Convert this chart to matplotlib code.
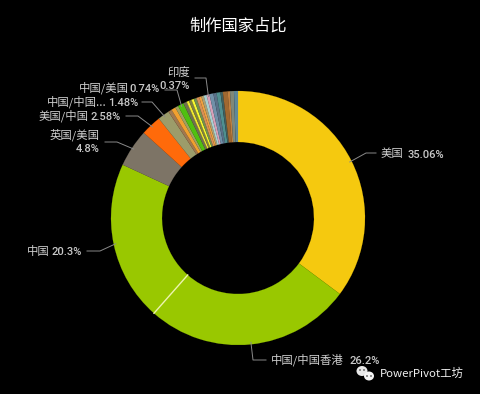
import numpy as np
import matplotlib
matplotlib.use('Agg')
import matplotlib.pyplot as plt
from matplotlib.patches import Ellipse, Circle

plt.rcParams['font.family'] = ['Noto Sans CJK SC', 'DejaVu Sans']

# slices, clockwise from the top
values = [35.06, 26.2, 20.3, 4.8, 2.58, 1.48, 0.45, 0.55, 0.4, 0.74, 0.45, 0.3, 0.35, 0.3, 0.35,
          0.35, 0.3, 0.3, 0.37, 0.37, 0.5, 0.4, 0.5, 0.3, 0.6, 0.3, 0.5, 0.5]
colors = ['#f5c90f', '#99c800', '#99c800', '#7d7466', '#ff6a0a', '#9c9c6a', '#a07850', '#f0a030',
          '#a0a060', '#50c010', '#707050', '#f0e830', '#808040', '#f8f830', '#709050',
          '#d89058', '#f0a040', '#b0a070', '#a8d0d0', '#d8a0b8', '#7090a8', '#5a7088', '#4f8f90',
          '#3f5f5f', '#a06830', '#c08040', '#808878', '#5f8898']

# label text
names = ['美国', '中国/中国香港', '中国', '英国/美国', '美国/中国', '中国/中国...', '中国/美国', '印度']
label_values = [35.06, 26.2, 20.3, 4.8, 2.58, 1.48, 0.74, 0.37]
# index of the slice each leader points at
label_slices = [0, 1, 2, 3, 4, 5, 9, 19]

# layout in pixels of the 480x394 picture (y from the top)
cx, cy, r_out, r_in = 238, 218, 127, 76
name_pos = [(381, 154, 'left'), (271, 360, 'left'), (50, 251, 'right'), (100, 135, 'right'),
            (89, 116, 'right'), (107, 102, 'right'), (129, 88, 'right'), (190, 72, 'right')]
pct_pos = [(408, 155, 'left'), (350, 361, 'left'), (82, 252, 'right'), (100, 149, 'right'),
           (121, 117, 'right'), (138, 103, 'right'), (160, 89, 'right'), (190, 86, 'right')]
elbows = [(366, 153, 376), (253, 360, 266), (100, 251, 87), (117, 142, 105),
          (138, 116, 126), (152, 102, 142), (177, 90, 165), (206, 78, 195)]

fig = plt.figure(figsize=(4.8, 3.94), dpi=100, facecolor='black')
ax = fig.add_axes([0, 0, 1, 1], facecolor='black')

wedges, _ = ax.pie(values, colors=colors, startangle=90, counterclock=False, radius=r_out,
                   center=(cx, 394 - cy), wedgeprops={'width': r_out - r_in, 'linewidth': 0.1}, frame=True)
for w in wedges:
    w.set_edgecolor(w.get_facecolor())
ax.set_xlim(0, 480)
ax.set_ylim(0, 394)
ax.set_aspect('equal')
ax.axis('off')

# thin light line between the two green slices (theta1 is the far end when clockwise)
edge = np.deg2rad(wedges[1].theta1)
ax.plot([cx + r_in * np.cos(edge), cx + r_out * np.cos(edge)],
        [394 - cy + r_in * np.sin(edge), 394 - cy + r_out * np.sin(edge)], color='#eef5b0', lw=1)

for i in range(len(names)):
    w = wedges[label_slices[i]]
    mid = np.deg2rad((w.theta1 + w.theta2) / 2)
    ex, ey, endx = elbows[i]
    ax.plot([cx + (r_out - 2) * np.cos(mid), ex, endx],
            [394 - cy + (r_out - 2) * np.sin(mid), 394 - ey, 394 - ey], color='#8a8a8a', lw=0.7)
    nx, ny, nha = name_pos[i]
    ax.text(nx, 394 - ny, names[i], color='#d0d0d0', fontsize=8.2, ha=nha, va='center')
    px, py, pha = pct_pos[i]
    ax.text(px, 394 - py, f'{label_values[i]}%', color='#c8c8c8', fontsize=8, ha=pha, va='center',
            family='Roboto', fontweight='medium')

ax.text(238, 394 - 26, '制作国家占比', color='white', fontsize=11.7, ha='center', va='center')

# watermark
ax.add_patch(Ellipse((362, 394 - 371), 11, 10, color='#e8e8e8', lw=0))
ax.add_patch(Ellipse((369, 394 - 376), 10, 9, color='#f4f4f4', lw=0))
for dx, dy in [(360, 370), (364, 370), (367, 376), (371, 376)]:
    ax.add_patch(Circle((dx, 394 - dy), 0.8, color='#333333', lw=0))
ax.text(380, 394 - 373, 'PowerPivot工坊', color='#f0f0f0', fontsize=8.2, ha='left', va='center',
        fontweight='medium')

fig.savefig('out.png', dpi=100, facecolor='black')
